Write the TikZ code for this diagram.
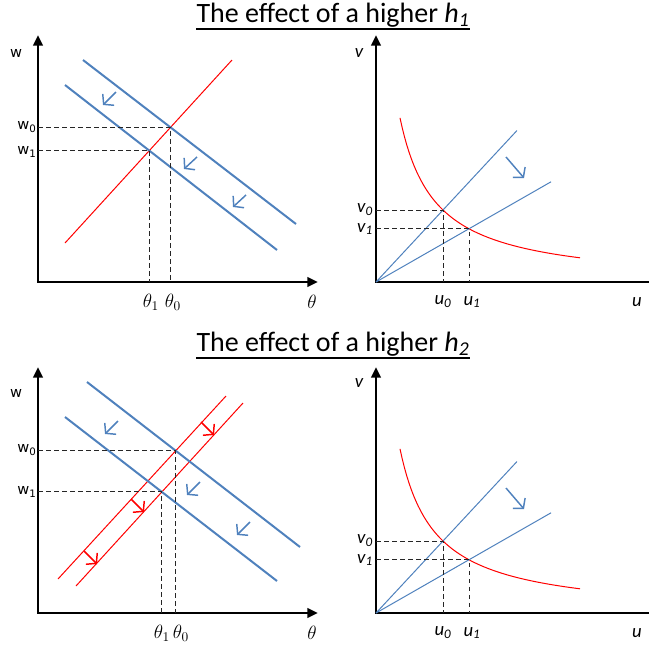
\documentclass[tikz,border=0pt]{standalone}
\usepackage{fontspec}
\setmainfont{Carlito}
\newfontfamily\dvs{DejaVu Sans}
\usetikzlibrary{arrows.meta,calc}
\definecolor{cblue}{RGB}{79,129,189}
\begin{document}
\begin{tikzpicture}[x=0.75pt,y=-0.75pt,
 axis/.style={line width=2.2pt,{Triangle[length=8pt,width=7pt]}-{Triangle[length=8pt,width=7pt]}},
 axisr/.style={line width=2.2pt,{Triangle[length=8pt,width=7pt]}-},
 demand/.style={line width=1.5pt,color=cblue},
 supply/.style={line width=0.75pt,color=red},
 ray/.style={line width=0.75pt,color=cblue},
 guide/.style={line width=0.75pt,dash pattern=on 3.5pt off 2.5pt,black!85},
 shiftb/.style={line width=1.1pt,cblue,-{Straight Barb[length=5pt,width=12pt]}},
 shiftr/.style={line width=1.1pt,red,-{Straight Barb[length=5pt,width=12pt]}},
 wlab/.style={font=\dvs\fontsize{11}{13}\selectfont,inner sep=0pt},
 tlab/.style={font=\fontsize{14.5}{16}\selectfont,inner sep=0pt},
 vlab/.style={font=\fontsize{14}{16}\selectfont\itshape,inner sep=0pt},
 title/.style={font=\fontsize{21}{25}\selectfont,anchor=base,inner sep=0pt},
 uline/.style={line width=1.3pt}]
\useasboundingbox (0,0) rectangle (649,647);

% ---------- titles ----------
\node[title] (T1) at (333,22) {The effect of a higher \textit{h}\textsubscript{\textit{1}}};
\draw[uline] ([yshift=-5pt]T1.base west) -- ([yshift=-5pt]T1.base east);
\node[title] (T2) at (333,351) {The effect of a higher \textit{h}\textsubscript{\textit{2}}};
\draw[uline] ([yshift=-5pt]T2.base west) -- ([yshift=-5pt]T2.base east);

% ---------- top left ----------
\coordinate (aO) at (38,282);
\draw[axis] (38,35) -- (aO) -- (318,282);
\coordinate (aRA) at (65,243); \coordinate (aRB) at (232,60);
\coordinate (aUA) at (83,60);  \coordinate (aUB) at (296,224);
\coordinate (aLA) at (65,85);  \coordinate (aLB) at (277,250);
\draw[supply] (aRA) -- (aRB);
\draw[demand] (aUA) -- (aUB);
\draw[demand] (aLA) -- (aLB);
\coordinate (aP0) at (intersection of aRA--aRB and aUA--aUB);
\coordinate (aP1) at (intersection of aRA--aRB and aLA--aLB);
\draw[guide] (aP0 -| aO) -- (aP0) -- (aP0 |- aO);
\draw[guide] (aP1 -| aO) -- (aP1) -- (aP1 |- aO);
\node[wlab] (aw) at (16,53) {w};
\node[wlab] (aw0) at (27,127) {w\textsubscript{0}};
\node[wlab] (aw1) at (27,152) {w\textsubscript{1}};
\node[tlab] (at1) at (151,302) {$\theta_1$};
\node[tlab] (at0) at (173,302) {$\theta_0$};
\node[tlab] (at) at (312,302) {$\theta$};
\coordinate (aa1) at (116,92);  \coordinate (aa1e) at (103,105);
\coordinate (aa2) at (197,157); \coordinate (aa2e) at (184,169);
\coordinate (aa3) at (246,195); \coordinate (aa3e) at (233,207);
\draw[shiftb] (aa1) -- (aa1e);
\draw[shiftb] (aa2) -- (aa2e);
\draw[shiftb] (aa3) -- (aa3e);

% ---------- top right ----------
\coordinate (bO) at (376,282);
\draw[axisr] (376,35) -- (bO) -- (649,282);
\draw[supply] plot[domain=400:580,samples=80] (\x,{285-5850/(\x-365)});
\coordinate (bP0) at (443,{285-5850/78});
\coordinate (bP1) at (469,{285-5850/104});
\draw[ray] (bO) -- ($(bO)!2.104!(bP0)$);
\draw[ray] (bO) -- ($(bO)!1.882!(bP1)$);
\draw[guide] (bP0 -| bO) -- (bP0) -- (bP0 |- bO);
\draw[guide] (bP1 -| bO) -- (bP1) -- (bP1 |- bO);
\node[vlab] (bv) at (359,53) {v};
\node[vlab] (bv0) at (365,210) {v\textsubscript{0}};
\node[vlab] (bv1) at (365,229) {v\textsubscript{1}};
\node[vlab] (bu0) at (443,302) {u\textsubscript{0}};
\node[vlab] (bu1) at (472,302) {u\textsubscript{1}};
\node[vlab] (bu) at (637,302) {u};
\coordinate (ba1) at (506,157); \coordinate (ba1e) at (524,178);
\draw[shiftb] (ba1) -- (ba1e);

% ---------- bottom left ----------
\coordinate (cO) at (38,613);
\draw[axis] (38,367) -- (cO) -- (318,613);
\coordinate (cRA) at (58,579);  \coordinate (cRB) at (226,396);
\coordinate (cSA) at (76,586);  \coordinate (cSB) at (243,403);
\coordinate (cUA) at (87,382);  \coordinate (cUB) at (300,547);
\coordinate (cLA) at (65,417);  \coordinate (cLB) at (277,581);
\draw[supply] (cRA) -- (cRB);
\draw[supply] (cSA) -- (cSB);
\draw[demand] (cUA) -- (cUB);
\draw[demand] (cLA) -- (cLB);
\coordinate (cP0) at (intersection of cRA--cRB and cUA--cUB);
\coordinate (cP1) at (intersection of cSA--cSB and cLA--cLB);
\draw[guide] (cP0 -| cO) -- (cP0) -- (cP0 |- cO);
\draw[guide] (cP1 -| cO) -- (cP1) -- (cP1 |- cO);
\node[wlab] (cw) at (16,393) {w};
\node[wlab] (cw0) at (27,450) {w\textsubscript{0}};
\node[wlab] (cw1) at (27,492) {w\textsubscript{1}};
\node[tlab] (ct1) at (162,633) {$\theta_1$};
\node[tlab] (ct0) at (181,633) {$\theta_0$};
\node[tlab] (ct) at (312,633) {$\theta$};
\coordinate (ca1) at (118,421); \coordinate (ca1e) at (105,434);
\coordinate (ca2) at (200,482); \coordinate (ca2e) at (187,495);
\coordinate (ca3) at (250,522); \coordinate (ca3e) at (237,535);
\draw[shiftb] (ca1) -- (ca1e);
\draw[shiftb] (ca2) -- (ca2e);
\draw[shiftb] (ca3) -- (ca3e);
\coordinate (cr1) at (201,422); \coordinate (cr1e) at (214,435);
\coordinate (cr2) at (131,499); \coordinate (cr2e) at (144,512);
\coordinate (cr3) at (84,551);  \coordinate (cr3e) at (97,564);
\draw[shiftr] (cr1) -- (cr1e);
\draw[shiftr] (cr2) -- (cr2e);
\draw[shiftr] (cr3) -- (cr3e);

% ---------- bottom right ----------
\begin{scope}[shift={(0,331)}]
\coordinate (dO) at (376,282);
\draw[axisr] (376,36) -- (dO) -- (649,282);
\draw[supply] plot[domain=400:580,samples=80] (\x,{285-5850/(\x-365)});
\coordinate (dP0) at (443,{285-5850/78});
\coordinate (dP1) at (469,{285-5850/104});
\draw[ray] (dO) -- ($(dO)!2.104!(dP0)$);
\draw[ray] (dO) -- ($(dO)!1.882!(dP1)$);
\draw[guide] (dP0 -| dO) -- (dP0) -- (dP0 |- dO);
\draw[guide] (dP1 -| dO) -- (dP1) -- (dP1 |- dO);
\node[vlab] (dv) at (359,52) {v};
\node[vlab] (dv0) at (365,210) {v\textsubscript{0}};
\node[vlab] (dv1) at (365,229) {v\textsubscript{1}};
\node[vlab] (du0) at (443,302) {u\textsubscript{0}};
\node[vlab] (du1) at (472,302) {u\textsubscript{1}};
\node[vlab] (du) at (637,302) {u};
\coordinate (da1) at (506,157); \coordinate (da1e) at (524,178);
\draw[shiftb] (da1) -- (da1e);
\end{scope}
\end{tikzpicture}
\end{document}
